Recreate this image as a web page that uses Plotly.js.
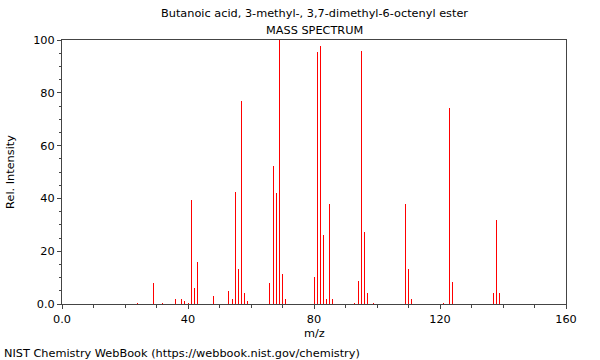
<!DOCTYPE html>
<html>
<head>
<meta charset="utf-8">
<script src="https://cdn.plot.ly/plotly-3.0.1.min.js"></script>
<style>html,body{margin:0;padding:0;background:#fff;}#chart{width:600px;height:360px;}</style>
</head>
<body>
<div id="chart"></div>
<script>
const mz = [24, 29, 32, 36, 38, 39, 40, 41, 42, 43, 48, 53, 54, 55, 56, 57, 58, 59, 66, 67, 68, 69, 70, 71, 80, 81, 82, 83, 84, 85, 86, 93, 94, 95, 96, 97, 99, 109, 110, 111, 121, 123, 124, 137, 138, 139];
const intensity = [0.5, 8, 0.5, 2, 2, 1, 0.5, 39.4, 6, 16, 3, 5, 2, 42.3, 13.3, 76.9, 4, 1, 8, 52.3, 42, 100, 11.4, 2, 10.4, 95.5, 97.9, 26.1, 2, 37.7, 2, 0.5, 8.6, 96, 27.4, 4, 0.5, 37.9, 13.3, 2, 0.5, 74.1, 8.2, 4, 31.8, 4];
const xTickVals = [0, 40, 80, 120, 160];
const xTickText = ["0.0", "40", "80", "120", "160"];
const yTickVals = [0, 20, 40, 60, 80, 100];
const yTickText = ["0.0", "20", "40", "60", "80", "100"];
const titleLine1 = "Butanoic acid, 3-methyl-, 3,7-dimethyl-6-octenyl ester";
const titleLine2 = "MASS SPECTRUM";
const xTitle = "m/z";
const yTitle = "Rel. Intensity";
const footer = "NIST Chemistry WebBook (https://webbook.nist.gov/chemistry)";

const font = {family: "DejaVu Sans, sans-serif", size: 11.3, color: "#000"};

const trace = {
  type: "bar",
  x: mz,
  y: intensity,
  width: 0.32,
  marker: {color: "#ff0000", line: {width: 0}},
  hoverinfo: "x+y"
};

const layout = {
  width: 600, height: 360,
  margin: {l: 62, r: 34, t: 40, b: 56, pad: 0},
  paper_bgcolor: "#fff", plot_bgcolor: "#fff",
  font: font,
  showlegend: false,
  bargap: 0,
  xaxis: {
    range: [0, 160],
    tickvals: xTickVals, ticktext: xTickText,
    ticks: "outside", ticklen: 4, tickwidth: 1, tickcolor: "#444",
    minor: {dtick: 10, tick0: 0, ticks: "outside", ticklen: 3, tickcolor: "#444", showgrid: false},
    showgrid: false, zeroline: false,
    showline: true, linecolor: "#444", linewidth: 1, mirror: true,
    tickfont: font,
    automargin: false,
    fixedrange: true
  },
  yaxis: {
    range: [0, 100],
    tickvals: yTickVals, ticktext: yTickText,
    ticks: "outside", ticklen: 4, tickwidth: 1, tickcolor: "#444",
    minor: {dtick: 5, tick0: 0, ticks: "outside", ticklen: 2, tickcolor: "#444", showgrid: false},
    showgrid: false, zeroline: false,
    showline: true, linecolor: "#444", linewidth: 1, mirror: true,
    tickfont: font,
    title: {text: yTitle, font: font, standoff: 16},
    automargin: false,
    fixedrange: true
  },
  annotations: [
    {text: titleLine1, xref: "paper", yref: "paper", x: 0.5, y: 1, yshift: 27, xanchor: "center", yanchor: "middle", showarrow: false, font: font},
    {text: titleLine2, xref: "paper", yref: "paper", x: 0.5, y: 1, yshift: 10, xanchor: "center", yanchor: "middle", showarrow: false, font: font},
    {text: xTitle, xref: "paper", yref: "paper", x: 0.5, y: 0, yshift: -29, xanchor: "center", yanchor: "middle", showarrow: false, font: font},
    {text: footer, xref: "paper", yref: "paper", x: 0, y: 0, xshift: -60, yshift: -49, xanchor: "left", yanchor: "middle", showarrow: false, font: font}
  ]
};

Plotly.newPlot("chart", [trace], layout, {displayModeBar: false, staticPlot: true});
</script>
</body>
</html>
